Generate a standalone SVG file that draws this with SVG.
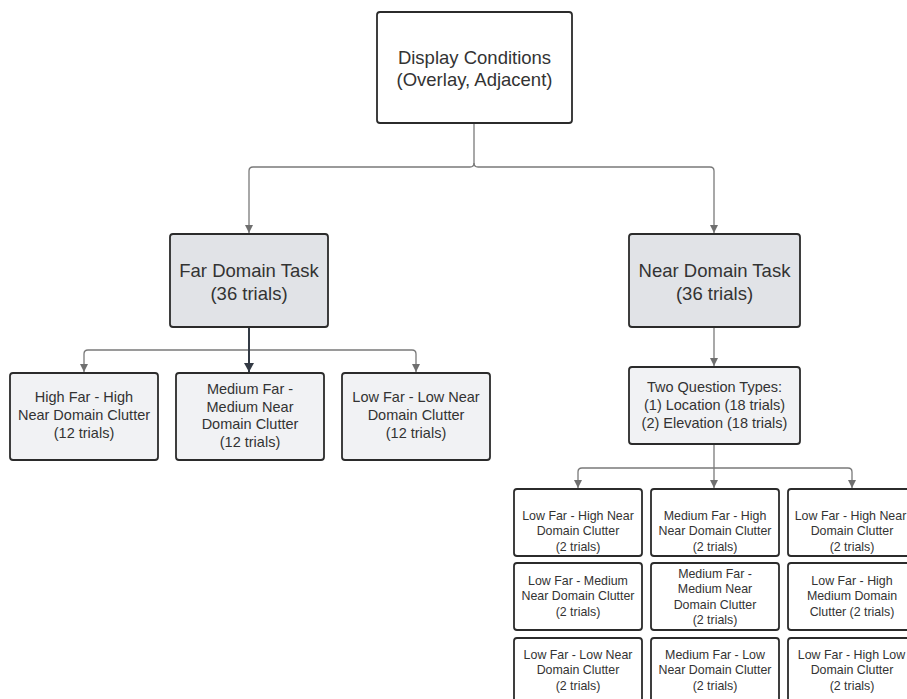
<svg xmlns="http://www.w3.org/2000/svg" width="907" height="699" viewBox="0 0 907 699">
<style>
  .box { stroke: #2b2b2b; stroke-width: 1.8; }
  .white { fill: #ffffff; }
  .task { fill: #e1e3e7; }
  .light { fill: #f1f2f4; }
  text { font-family: "Liberation Sans", Arial, sans-serif; fill: #333333; text-anchor: middle; }
  .t18 { font-size: 18.5px; }
  .t14 { font-size: 14.5px; }
  .t13 { font-size: 12.4px; }
  .conn { fill: none; stroke: #7a7a7a; stroke-width: 1.3; }
  .dark { fill: none; stroke: #333a44; stroke-width: 2; }
</style>
<defs>
  <marker id="arr" markerUnits="userSpaceOnUse" markerWidth="10" markerHeight="10" refX="8" refY="4" orient="auto">
    <path d="M0,0 L8,4 L0,8 Z" fill="#6f6f6f"/>
  </marker>
  <marker id="arrd" markerUnits="userSpaceOnUse" markerWidth="12" markerHeight="12" refX="9" refY="5" orient="auto">
    <path d="M0,0 L9,5 L0,10 Z" fill="#333a44"/>
  </marker>
</defs>

<g id="connectors">
  <path class="conn" d="M474,123 V163 Q474,167 470,167 H253 Q249,167 249,171 V233" marker-end="url(#arr)"/>
  <path class="conn" d="M474,163 Q474,167 478,167 H710 Q714,167 714,171 V233" marker-end="url(#arr)"/>
  <path class="conn" d="M249,350 H88 Q84,350 84,354 V372" marker-end="url(#arr)"/>
  <path class="conn" d="M249,350 H412 Q416,350 416,354 V372" marker-end="url(#arr)"/>
  <path class="dark" d="M249,327 V372" marker-end="url(#arrd)"/>
  <path class="conn" d="M714,327 V366" marker-end="url(#arr)"/>
  <path class="conn" d="M714,444 V488" marker-end="url(#arr)"/>
  <path class="conn" d="M714,468 H582 Q578,468 578,472 V488" marker-end="url(#arr)"/>
  <path class="conn" d="M714,468 H848 Q852,468 852,472 V488" marker-end="url(#arr)"/>
</g>

<g id="display-conditions">
  <rect class="box white" x="377" y="12" width="195" height="111" rx="3"/>
  <text class="t18" x="474.5" y="63.5">Display Conditions</text>
  <text class="t18" x="474.5" y="85.5">(Overlay, Adjacent)</text>
</g>

<g id="far-domain">
  <rect class="box task" x="170" y="234" width="158" height="93" rx="3"/>
  <text class="t18" x="249" y="276.5">Far Domain Task</text>
  <text class="t18" x="249" y="299.5">(36 trials)</text>
</g>

<g id="near-domain">
  <rect class="box task" x="629" y="234" width="171" height="93" rx="3"/>
  <text class="t18" x="714.5" y="276.5">Near Domain Task</text>
  <text class="t18" x="714.5" y="299.5">(36 trials)</text>
</g>

<g id="far-high">
  <rect class="box light" x="10" y="373" width="148" height="87" rx="3"/>
  <text class="t14" x="84" y="402">High Far - High</text>
  <text class="t14" x="84" y="420">Near Domain Clutter</text>
  <text class="t14" x="84" y="438">(12 trials)</text>
</g>

<g id="far-medium">
  <rect class="box light" x="176" y="373" width="148" height="87" rx="3"/>
  <text class="t14" x="250" y="394">Medium Far -</text>
  <text class="t14" x="250" y="411.5">Medium Near</text>
  <text class="t14" x="250" y="429">Domain Clutter</text>
  <text class="t14" x="250" y="446.5">(12 trials)</text>
</g>

<g id="far-low">
  <rect class="box light" x="342" y="373" width="148" height="87" rx="3"/>
  <text class="t14" x="416" y="402">Low Far - Low Near</text>
  <text class="t14" x="416" y="420">Domain Clutter</text>
  <text class="t14" x="416" y="438">(12 trials)</text>
</g>

<g id="question-types">
  <rect class="box light" x="629" y="367" width="171" height="77" rx="3"/>
  <text class="t14" x="714.5" y="392">Two Question Types:</text>
  <text class="t14" x="714.5" y="409.5">(1) Location (18 trials)</text>
  <text class="t14" x="714.5" y="427.5">(2) Elevation (18 trials)</text>
</g>

<g id="n11">
  <rect class="box white" x="514" y="489" width="128" height="67" rx="3"/>
  <text class="t13" x="578" y="519.5">Low Far - High Near</text>
  <text class="t13" x="578" y="535">Domain Clutter</text>
  <text class="t13" x="578" y="550.5">(2 trials)</text>
</g>
<g id="n12">
  <rect class="box white" x="651" y="489" width="128" height="67" rx="3"/>
  <text class="t13" x="715" y="519.5">Medium Far - High</text>
  <text class="t13" x="715" y="535">Near Domain Clutter</text>
  <text class="t13" x="715" y="550.5">(2 trials)</text>
</g>
<g id="n13">
  <rect class="box white" x="788" y="489" width="128" height="67" rx="3"/>
  <text class="t13" x="850.5" y="519.5">Low Far - High Near</text>
  <text class="t13" x="852" y="535">Domain Clutter</text>
  <text class="t13" x="852" y="550.5">(2 trials)</text>
</g>

<g id="n21">
  <rect class="box white" x="514" y="563" width="128" height="67" rx="3"/>
  <text class="t13" x="578" y="584.5">Low Far - Medium</text>
  <text class="t13" x="578" y="600">Near Domain Clutter</text>
  <text class="t13" x="578" y="615.5">(2 trials)</text>
</g>
<g id="n22">
  <rect class="box white" x="651" y="563" width="128" height="67" rx="3"/>
  <text class="t13" x="715" y="577.5">Medium Far -</text>
  <text class="t13" x="715" y="593">Medium Near</text>
  <text class="t13" x="715" y="608.5">Domain Clutter</text>
  <text class="t13" x="715" y="624">(2 trials)</text>
</g>
<g id="n23">
  <rect class="box white" x="788" y="563" width="128" height="67" rx="3"/>
  <text class="t13" x="852" y="584.5">Low Far - High</text>
  <text class="t13" x="852" y="600">Medium Domain</text>
  <text class="t13" x="852" y="615.5">Clutter (2 trials)</text>
</g>

<g id="n31">
  <rect class="box white" x="514" y="638" width="128" height="67" rx="3"/>
  <text class="t13" x="578" y="658.5">Low Far - Low Near</text>
  <text class="t13" x="578" y="674">Domain Clutter</text>
  <text class="t13" x="578" y="689.5">(2 trials)</text>
</g>
<g id="n32">
  <rect class="box white" x="651" y="638" width="128" height="67" rx="3"/>
  <text class="t13" x="715" y="658.5">Medium Far - Low</text>
  <text class="t13" x="715" y="674">Near Domain Clutter</text>
  <text class="t13" x="715" y="689.5">(2 trials)</text>
</g>
<g id="n33">
  <rect class="box white" x="788" y="638" width="128" height="67" rx="3"/>
  <text class="t13" x="851.5" y="658.5">Low Far - High Low</text>
  <text class="t13" x="852" y="674">Domain Clutter</text>
  <text class="t13" x="852" y="689.5">(2 trials)</text>
</g>
</svg>
